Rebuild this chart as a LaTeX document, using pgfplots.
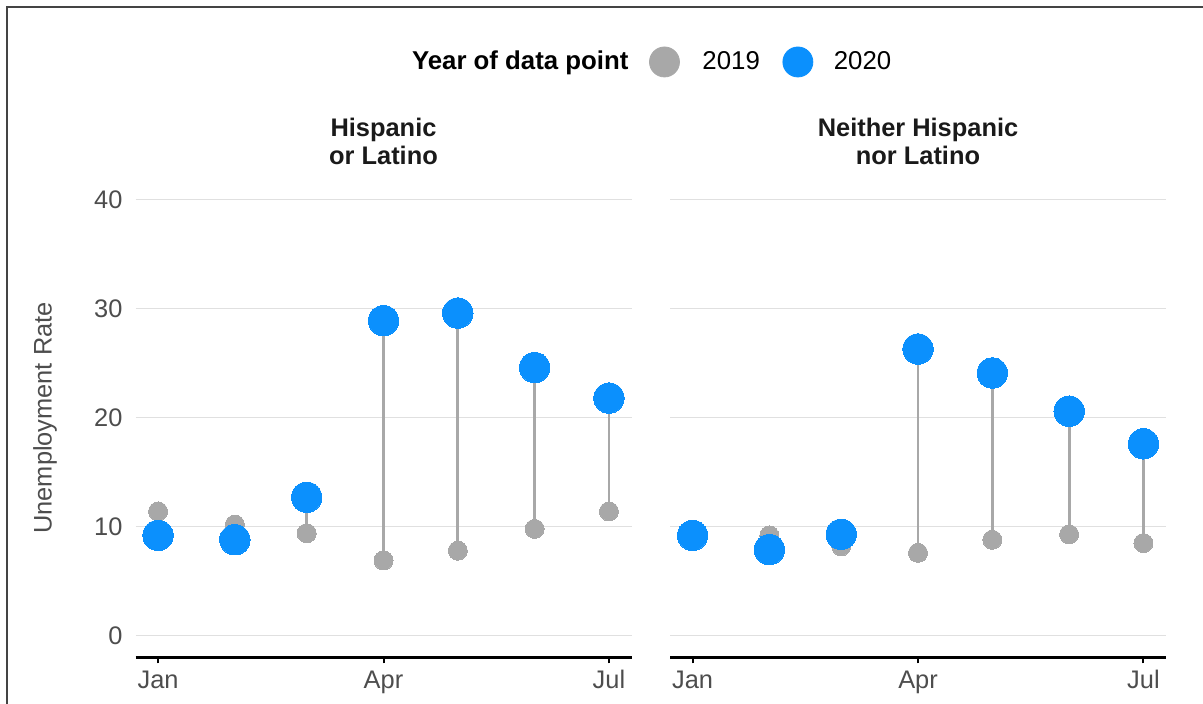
\documentclass[border=0pt]{standalone}
\usepackage{fontspec}
\setmainfont{Liberation Sans}
\usepackage{pgfplots}
\pgfplotsset{compat=1.18}
\usepackage{pgfplotstable}
\definecolor{c19}{HTML}{A8A8A8}
\definecolor{c20}{HTML}{0B90FD}
\definecolor{gridc}{HTML}{E0E0E0}
\definecolor{tickc}{HTML}{4D4D4D}
\definecolor{stripc}{HTML}{1A1A1A}
\definecolor{framec}{HTML}{444444}
\newcommand{\ff}{\fontsize{12.7}{14}\selectfont}

% x = day of year 2020 (Jan 1 = 0)
\pgfplotstableread{
x y19 y20
0 11.4 9.2
31 10.2 8.8
60 9.4 12.7
91 6.9 28.9
121 7.8 29.6
152 9.8 24.6
182 11.4 21.8
}\hisp

\pgfplotstableread{
x y19 y20
0 9.1 9.2
31 9.2 7.9
60 8.2 9.3
91 7.6 26.3
121 8.8 24.1
152 9.3 20.6
182 8.5 17.6
}\nonhisp

\pgfplotsset{panel/.style={
  scale only axis, width=248pt, height=239.8pt,
  xmin=-9.1, xmax=191.1, ymin=-2, ymax=42,
  axis x line=bottom, axis y line=left,
  x axis line style={-, black, line width=1.3pt},
  y axis line style={draw=none},
  xtick={0,91,182}, xticklabels={Jan,Apr,Jul},
  ytick={0,10,20,30,40},
  tick align=outside, major tick length=3pt,
  xtick style={black, line width=1pt},
  ytick style={draw=none},
  ymajorgrids, grid style={gridc, line width=0.8pt},
  tick label style={font=\ff, text=tickc},
  /pgf/number format/assume math mode=true,
  every axis title/.style={at={(0.5,1.076)}, anchor=center, align=center,
     font=\bfseries\ff, text=stripc},
  seg/.style={forget plot, color=c19, line width=1.4pt, -,
     quiver={u=0, v=\thisrow{y20}-\thisrow{y19}}},
  p19/.style={forget plot, color=c19, only marks, mark=*, mark size=4.75pt,
     mark options={draw=c19, fill=c19, line width=0pt}},
  p20/.style={forget plot, color=c20, only marks, mark=*, mark size=7.6pt,
     mark options={draw=c20, fill=c20, line width=0pt}},
}}

\begin{document}
\begin{tikzpicture}[font=\ff]
\useasboundingbox (0,0) rectangle (601.5pt,352pt);

\begin{axis}[panel, at={(67.75pt,23.25pt)}, anchor=south west,
  title={Hispanic\\or Latino},
  ylabel={Unemployment Rate},
  every axis y label/.style={at={(-0.1825,0.4994)}, anchor=center, rotate=90, font=\ff, text=tickc},
  legend columns=-1,
  legend style={at={(0.5575,1.2417)}, anchor=west, draw=none, fill=none,
    inner sep=0pt, outer sep=0pt, column sep=0pt, row sep=0pt,
    nodes={inner sep=0pt, outer sep=0pt, text=black, font=\fontsize{12.9}{14}\selectfont}},
  legend cell align=left,
]
\addlegendimage{empty legend}
\addlegendentry{\textbf{Year of data point}}
\addlegendimage{legend image code/.code={\path[draw=none,fill=none] (0pt,0pt) -- (37pt,0pt); \fill[c19] (18pt,0pt) circle (7.5pt);}}
\addlegendentry{2019}
\addlegendimage{legend image code/.code={\path[draw=none,fill=none] (0pt,0pt) -- (37pt,0pt); \fill[c20] (19pt,0pt) circle (7.5pt);}}
\addlegendentry{2020}

\addplot[seg] table[x=x, y=y19] {\hisp};
\addplot[p19] table[x=x, y=y19] {\hisp};
\addplot[p20] table[x=x, y=y20] {\hisp};
\end{axis}

\begin{axis}[panel, at={(335pt,23.25pt)}, anchor=south west,
  title={Neither Hispanic\\nor Latino},
  yticklabels={},
]
\addplot[seg] table[x=x, y=y19] {\nonhisp};
\addplot[p19] table[x=x, y=y19] {\nonhisp};
\addplot[p20] table[x=x, y=y20] {\nonhisp};
\end{axis}

\draw[framec, line width=1pt] (3.5pt,0pt) -- (3.5pt,348.5pt) -- (601.5pt,348.5pt);
\end{tikzpicture}
\end{document}
